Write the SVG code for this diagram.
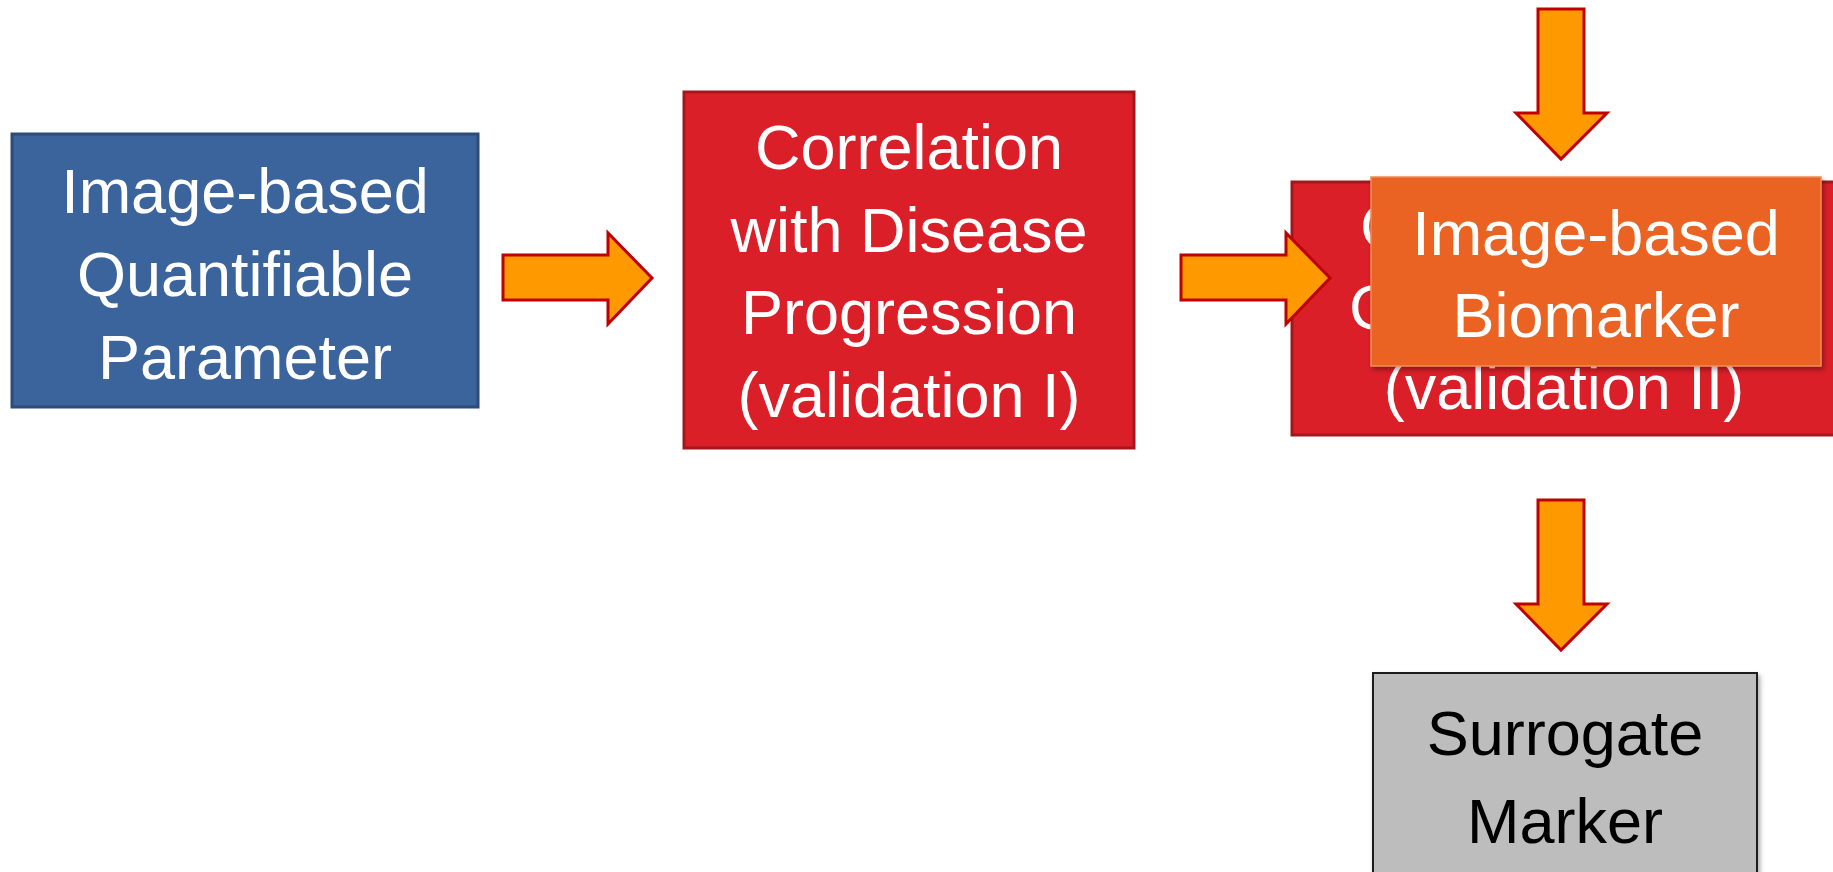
<svg xmlns="http://www.w3.org/2000/svg" width="1833" height="872" viewBox="0 0 1833 872">
  <defs>
    <filter id="shadow" x="-5%" y="-5%" width="115%" height="120%">
      <feDropShadow dx="2" dy="3" stdDeviation="2.5" flood-color="#000" flood-opacity="0.35"/>
    </filter>
  </defs>
  <style>
    .lbl { font-family: "Liberation Sans", Arial, sans-serif; font-size: 63px; text-anchor: middle; }
    .white { fill: #ffffff; }
    .black { fill: #000000; }
    .arrow { fill: #FF9900; stroke: #C00000; stroke-width: 3; stroke-linejoin: miter; }
  </style>
  <rect width="1833" height="872" fill="#ffffff"/>

  <g id="node-quantifiable">
    <rect x="12" y="134" width="466" height="273" fill="#3B649D" stroke="#2B4B7B" stroke-width="3"/>
    <text class="lbl white" x="245" y="213">Image-based</text>
    <text class="lbl white" x="245" y="296">Quantifiable</text>
    <text class="lbl white" x="245" y="379">Parameter</text>
  </g>

  <g id="node-validation1">
    <rect x="684" y="92" width="450" height="356" fill="#DA1F28" stroke="#A5161C" stroke-width="3"/>
    <text class="lbl white" x="909" y="169">Correlation</text>
    <text class="lbl white" x="909" y="252">with Disease</text>
    <text class="lbl white" x="909" y="334">Progression</text>
    <text class="lbl white" x="909" y="417">(validation I)</text>
  </g>

  <g id="node-validation2">
    <rect x="1292" y="182" width="560" height="253" fill="#DA1F28" stroke="#A5161C" stroke-width="3"/>
    <text class="lbl white" x="1360" y="248" style="text-anchor:start">C</text>
    <text class="lbl white" x="1349" y="329" style="text-anchor:start">C</text>
    <text class="lbl white" x="1564" y="409">(validation II)</text>
  </g>

  <g id="connectors">
    <polygon class="arrow" points="503,255 608,255 608,233 652,278 608,324 608,300 503,300"/>
    <polygon class="arrow" points="1181,255 1286,255 1286,233 1330,278 1286,324 1286,300 1181,300"/>
    <polygon class="arrow" points="1538,9 1584,9 1584,113 1607,113 1561,159 1516,113 1538,113"/>
    <polygon class="arrow" points="1538,500 1584,500 1584,604 1607,604 1561,650 1516,604 1538,604"/>
  </g>

  <g id="node-biomarker">
    <rect x="1371" y="177" width="450" height="189" fill="#EA6420" stroke="#F08A55" stroke-width="1.5" filter="url(#shadow)"/>
    <text class="lbl white" x="1596" y="255">Image-based</text>
    <text class="lbl white" x="1596" y="337">Biomarker</text>
  </g>

  <g id="node-surrogate">
    <rect x="1373" y="673" width="384" height="215" fill="#BDBDBD" stroke="#1E1E1E" stroke-width="2" filter="url(#shadow)"/>
    <text class="lbl black" x="1565" y="755">Surrogate</text>
    <text class="lbl black" x="1565" y="843">Marker</text>
  </g>
</svg>
